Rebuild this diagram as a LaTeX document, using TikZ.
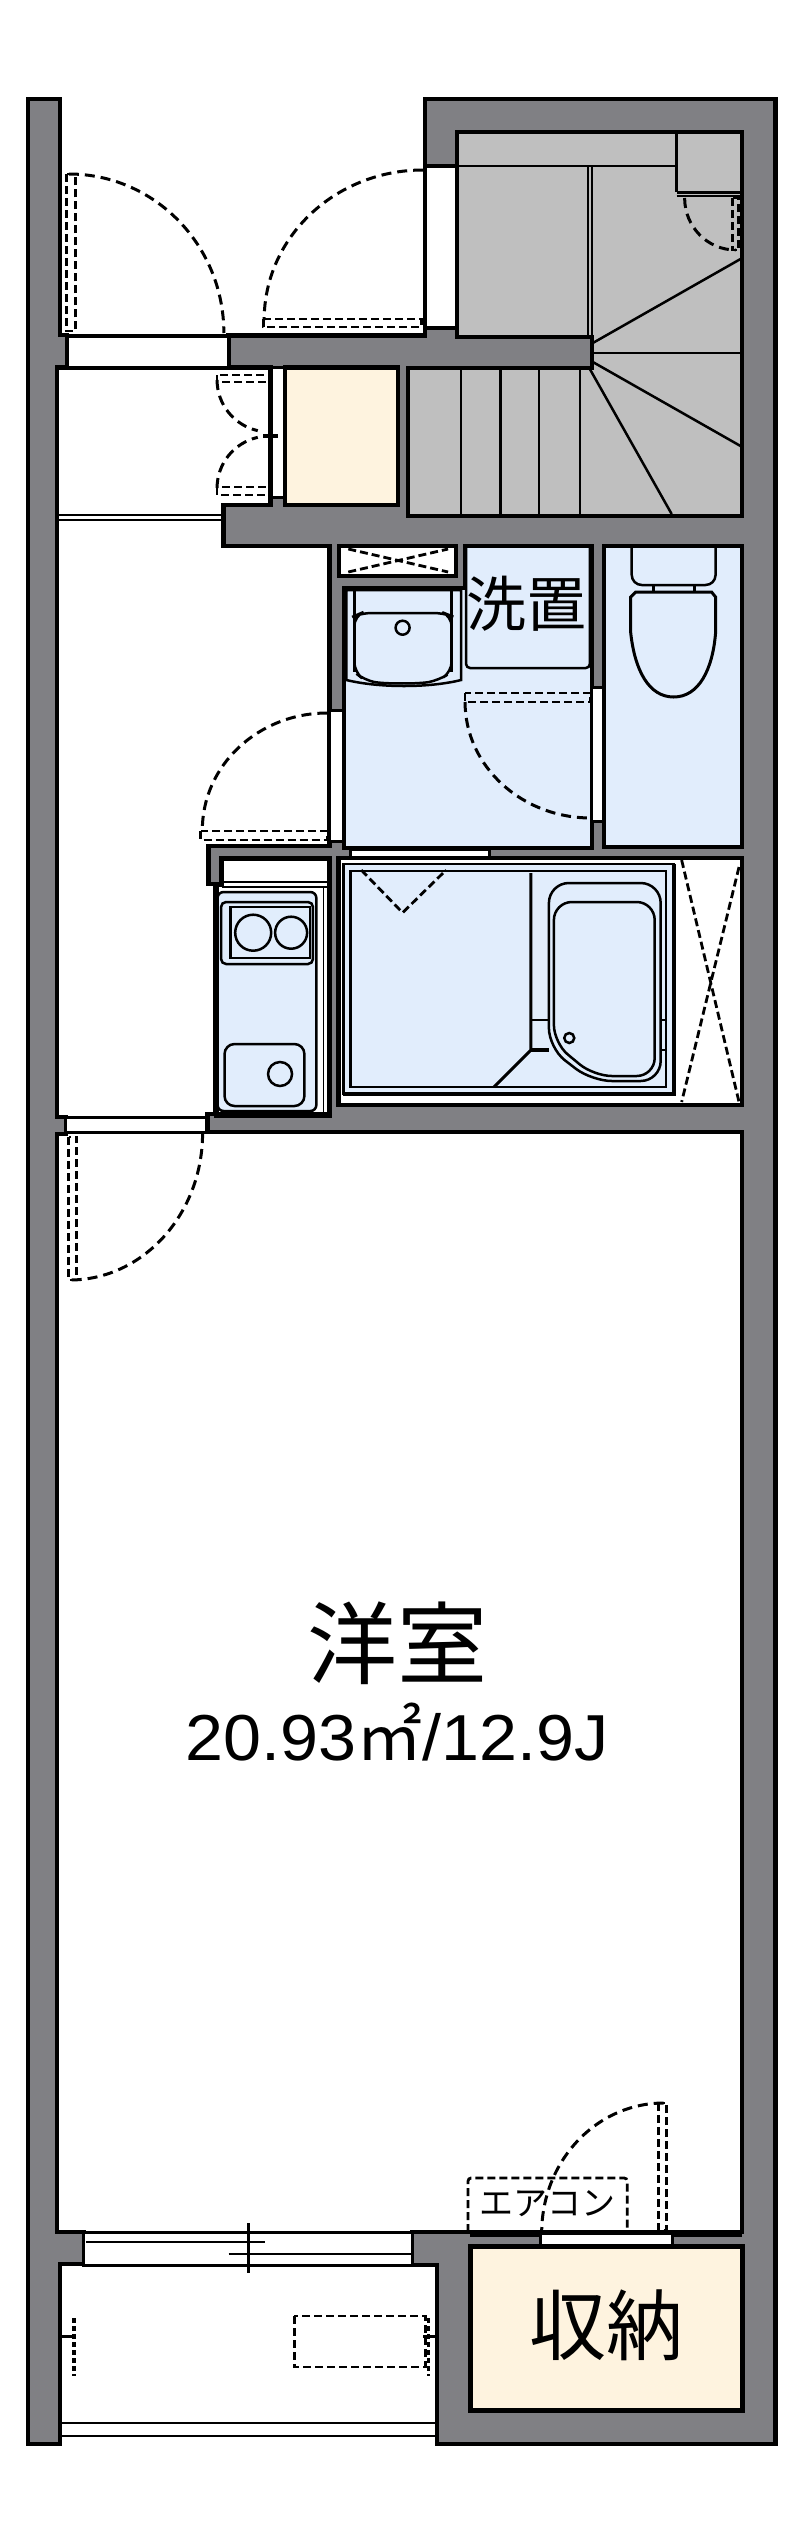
\documentclass[tikz,border=0pt]{standalone}
\usepackage{fontspec}
\setmainfont{Liberation Sans}
\newfontfamily\cjk{Noto Sans CJK JP}
\newfontfamily\areafont[FakeStretch=1.05]{Liberation Sans}
\definecolor{wallgray}{HTML}{808084}
\definecolor{stairgray}{HTML}{BFBFBF}
\definecolor{wetblue}{HTML}{E1EDFC}
\definecolor{closetcream}{HTML}{FEF3DF}
\tikzset{
	wallface/.style={fill=wallgray,draw=black,line width=4.5pt,line join=miter},
	roomline/.style={draw=black,line width=4.5pt},
	openside/.style={fill=white,draw=black,line width=3pt},
	fitting/.style={draw=black,line width=2.5pt},
	doorleaf/.style={draw=black,line width=2.8pt,dash pattern=on 8pt off 4pt},
	doorarc/.style={draw=black,line width=3pt,dash pattern=on 10pt off 6pt}
}
\begin{document}
\begin{tikzpicture}[x=0.998pt,y=-1pt]
	\useasboundingbox (0,0) rectangle (801.6,2540);
	\fill[white] (0,0) rectangle (801.6,2540);
	\draw[wallface] (28,99) -- (60,99) -- (60,335) -- (67,335) -- (67,367.5) -- (57,367.5) -- (57,1117) -- (66,1117) -- (66,1134) -- (57,1134) -- (57,2232) -- (84,2232) -- (84,2264) -- (60,2264) -- (60,2444) -- (28,2444) -- cycle;
	\draw[wallface] (426,99) -- (426,335.5) -- (229,335.5) -- (229,367.5) -- (271,367.5) -- (271,505) -- (224,505) -- (224,546) -- (330,546) -- (330,846) -- (209,846) -- (209,884) -- (216,884) -- (216,1114) -- (208,1114) -- (208,1132) -- (743.5,1132) -- (743.5,2232) -- (413,2232) -- (413,2265) -- (438,2265) -- (438,2444) -- (777,2444) -- (777,99) -- cycle;
	\draw[openside,line width=4pt] (67,335.5) rectangle (229,367.5);
	\draw[openside] (426,166.5) rectangle (458,327.5);
	\draw[fitting,line width=4.5pt] (425,166) -- (458,166);
	\draw[fitting,line width=4.5pt] (426,328) -- (458,328);
	\draw[fill=stairgray,roomline,line width=4pt] (458,132) -- (743.5,132) -- (743.5,516) -- (409,516) -- (409,367.5) -- (593,367.5) -- (593,337) -- (458,337) -- cycle;
	\draw[fitting] (458,166) -- (678,166);
	\draw[fitting] (678,132) -- (678,192);
	\draw[fitting,line width=3pt] (678,192) -- (742,192);
	\draw[fitting,line width=1.5pt] (678,196) -- (742,196);
	\draw[fitting,line width=1.5pt] (589,167) -- (589,337);
	\draw[fitting,line width=1.5pt] (593,167) -- (593,337);
	\draw[fitting] (594,343) -- (742,259);
	\draw[fitting] (594,353) -- (742,353);
	\draw[fitting] (594,362) -- (742,446);
	\draw[fitting] (591,369) -- (673,514);
	\foreach \stepx in {462,501.5,540,581} {
		\draw[fitting] (\stepx,369) -- (\stepx,514);
	}
	\draw[fill=closetcream,roomline] (285.5,367.5) -- (399,367.5) -- (399,505) -- (285.5,505) -- cycle;
	\draw[openside] (272,367.5) rectangle (285.5,497);
	\draw[fitting,line width=1.5pt] (59,515) -- (223,515);
	\draw[fitting,line width=1.5pt] (59,520) -- (223,520);
	\draw[fill=white,roomline] (339.5,546) rectangle (457,576);
	\draw[fill=wetblue,roomline] (466,546) -- (593,546) -- (593,848) -- (344.5,848) -- (344.5,588) -- (466,588) -- cycle;
	\draw[fill=wetblue,roomline] (605,546) rectangle (743.5,847);
	\draw[openside] (593,687) rectangle (605,821);
	\draw[openside] (330,710) rectangle (344.5,841);
	\draw[openside] (351,849) rectangle (490,858);
	\draw[fill=white,roomline] (339,858) rectangle (743.5,1105);
	\draw[fill=white,roomline,line width=5pt] (222,858) -- (330,858) -- (330,1115) -- (216.5,1115) -- (216.5,884) -- (222,884) -- cycle;
	\draw[roomline,line width=6pt] (216,1115) -- (332,1115);
	\draw[fitting,line width=1.5pt] (222,882) -- (328,882);
	\draw[fitting,line width=1.5pt] (222,887) -- (328,887);
	\draw[openside] (66,1117) rectangle (207,1132);
	\draw[openside] (84,2232) rectangle (413,2265);
	\draw[fill=closetcream,roomline,line width=5pt] (471,2246) rectangle (743.5,2410);
	\draw[roomline,line width=6pt] (471,2234) -- (541,2234);
	\draw[roomline,line width=6pt] (675,2234) -- (743.5,2234);
	\draw[openside] (542,2233) rectangle (674,2245);
	\draw[fitting] (60,2423) -- (437,2423);
	\draw[fitting] (60,2436) -- (437,2436);
	\draw[fitting] (86,2242) -- (266,2242);
	\draw[fitting] (229,2254) -- (412,2254);
	\draw[fitting] (249,2223) -- (249,2273);
	\draw[fitting,fill=wetblue] (347,590) -- (462,590) -- (462,680) .. controls (430,688) and (380,688) .. (347,680) -- cycle;
	\draw[fitting] (355,590) -- (355,672);
	\draw[fitting] (452.5,590) -- (452.5,672);
	\draw[fitting,rounded corners=10pt] (355,616) -- (362,613) -- (445,613) -- (452.5,616) -- (452.5,672) -- (440,680) .. controls (420,684) and (385,684) .. (365,680) -- (355,672) -- cycle;
	\draw[fitting] (403.4,627.7) circle (7pt);
	\draw[fitting,rounded corners=4pt] (467,546) -- (467,668) -- (591,668) -- (591,546);
	\draw[fitting,rounded corners=10pt] (633,548) -- (633,585) -- (717,585) -- (717,548);
	\draw[fitting] (655,585) -- (655,592);
	\draw[fitting] (696,585) -- (696,592);
	\draw[fitting,line width=3pt] (632,600) -- (632,597) -- (637,592) -- (713,592) -- (717,597) -- (717,633) .. controls (714,670) and (700,697) .. (675,697) .. controls (650,697) and (636,670) .. (632,633) -- cycle;
	\draw[fill=wetblue,fitting] (344,864) rectangle (675,1094);
	\draw[fitting,line width=4pt] (675,864) -- (675,1094) -- (344,1094);
	\draw[fitting] (351,871) rectangle (667.5,1087);
	\draw[fitting,line width=3pt] (532,873) -- (532,1050) -- (495,1087);
	\draw[fitting] (532,1020) -- (550,1020);
	\draw[fitting,line width=3.5pt] (532,1050) -- (550,1050);
	\draw[fitting] (662,1020) -- (667,1020);
	\draw[fitting] (662,1050) -- (667,1050);
	\draw[fitting,rounded corners=20pt] (550,1048) -- (550,883) -- (662,883) -- (662,1081) -- (593,1081) -- cycle;
	\draw[fitting,rounded corners=18pt] (555,1043) -- (555,902) -- (656,902) -- (656,1076) -- (595,1076) -- cycle;
	\draw[fitting] (570.4,1038) circle (5pt);
	\draw[fitting,fill=wetblue,rounded corners=6pt] (218,892) rectangle (317,1111);
	\draw[fitting,line width=1.5pt] (324,888) -- (324,1112);
	\draw[fitting,rounded corners=5pt] (221.5,902) rectangle (313.6,964);
	\draw[fitting] (231,907) rectangle (310.5,958);
	\draw[fitting] (253.7,932.7) circle (18pt);
	\draw[fitting] (291.7,932.7) circle (16pt);
	\draw[fitting,rounded corners=10pt] (225,1044) rectangle (305,1106);
	\draw[fitting] (280.6,1074) circle (12pt);
	\draw[doorleaf] (66.5,174) rectangle (76,331);
	\draw[doorarc] (69,174) arc[start angle=90,end angle=0,x radius=155pt,y radius=159pt];
	\draw[doorleaf] (264,319) rectangle (422,327);
	\draw[doorarc] (424,170) arc[start angle=90,end angle=180,x radius=159pt,y radius=150pt];
	\draw[doorleaf] (734,198) rectangle (740,250);
	\draw[doorarc] (686,198) arc[start angle=180,end angle=270,x radius=51pt,y radius=52pt];
	\draw[doorleaf] (217.5,375) rectangle (270,382);
	\draw[doorarc] (217.5,380) arc[start angle=180,end angle=257,x radius=52.5pt,y radius=52pt];
	\draw[doorleaf] (217.5,487) rectangle (270,495);
	\draw[doorarc] (217.5,488) arc[start angle=180,end angle=103,x radius=52.5pt,y radius=52pt];
	\draw[fitting,line width=4pt] (264,436) -- (279,436);
	\draw[doorleaf] (201,831) rectangle (328,840);
	\draw[doorarc] (328,713) arc[start angle=90,end angle=180,x radius=125pt,y radius=117pt];
	\draw[doorleaf] (466,693) rectangle (592,702);
	\draw[doorarc] (466,702) arc[start angle=180,end angle=270,x radius=126pt,y radius=116pt];
	\draw[doorleaf] (69,1137) rectangle (77,1280);
	\draw[doorarc] (203,1133) arc[start angle=0,end angle=-90,x radius=133pt,y radius=147pt];
	\draw[doorleaf] (660,2103) rectangle (668,2230);
	\draw[doorarc] (665,2103) arc[start angle=90,end angle=180,x radius=122pt,y radius=130pt];
	\draw[doorleaf] (349,549) -- (449,572);
	\draw[doorleaf] (349,572) -- (449,549);
	\draw[doorleaf] (362,870) -- (403.4,912.7) -- (447,870);
	\draw[doorleaf] (683,860) -- (740.5,1102);
	\draw[doorleaf] (740.5,867) -- (683,1102);
	\draw[doorleaf,rounded corners=3pt] (469,2232) -- (469,2178) -- (628.5,2178) -- (628.5,2232);
	\draw[doorleaf] (295,2316) rectangle (426,2367);
	\draw[doorleaf,line width=4pt,dash pattern=on 5pt off 3pt] (74.5,2318) -- (74.5,2376);
	\draw[fitting,line width=3pt] (62,2336) -- (76,2336);
	\draw[doorleaf,line width=3pt,dash pattern=on 5pt off 3pt] (429,2318) -- (429,2376);
	\draw[fitting,line width=3pt] (424,2336) -- (437,2336);
	\node (washlabel) at (528,604) {\cjk\fontsize{60}{62}\selectfont 洗置};
	\node (roomlabel) at (398,1643) {\cjk\fontsize{90}{92}\selectfont 洋室};
	\node (arealabel) at (398,1732) {\areafont\fontsize{65}{70}\selectfont 20.93{\cjk\fontsize{66}{70}\selectfont ㎡}/12.9J};
	\node (aconlabel) at (549,2204) {\cjk\fontsize{34}{36}\selectfont エアコン};
	\node (storelabel) at (608,2325) {\cjk\fontsize{77}{80}\selectfont 収納};
\end{tikzpicture}
\end{document}
